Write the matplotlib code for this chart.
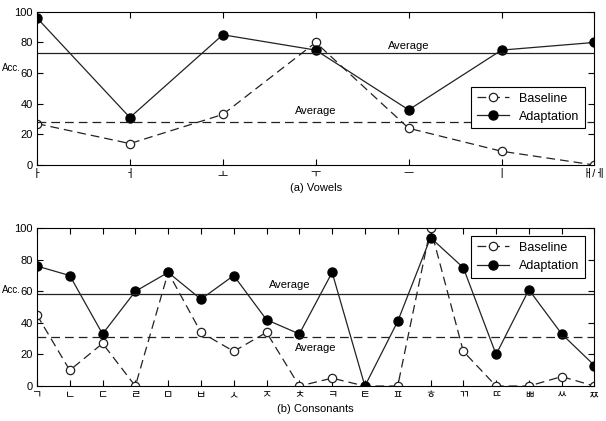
import matplotlib
matplotlib.use("Agg")
import matplotlib.pyplot as plt

plt.rcParams['font.family'] = ['Liberation Sans', 'Noto Sans CJK KR', 'DejaVu Sans']

# vowels
vowels = ['ㅏ', 'ㅓ', 'ㅗ', 'ㅜ', 'ㅡ', 'ㅣ', 'ㅐ/ㅔ']
vow_base = [27, 14, 33, 80, 24, 9, 0]
vow_adapt = [96, 31, 85, 75, 36, 75, 80]
vow_avg_base = 28
vow_avg_adapt = 73

# consonants
cons = ['ㄱ', 'ㄴ', 'ㄷ', 'ㄹ', 'ㅁ', 'ㅂ', 'ㅅ', 'ㅈ', 'ㅊ', 'ㅋ', 'ㅌ', 'ㅍ', 'ㅎ',
        'ㄲ', 'ㄸ', 'ㅃ', 'ㅆ', 'ㅉ']
con_base = [45, 10, 27, 0, 72, 34, 22, 34, 0, 5, 0, 0, 100, 22, 0, 0, 6, 0]
con_adapt = [76, 70, 33, 60, 72, 55, 70, 42, 33, 72, 0, 41, 94, 75, 20, 61, 33, 13]
con_avg_base = 31
con_avg_adapt = 58

lc = '#222222'
fig = plt.figure(figsize=(6.06, 4.21), dpi=100)
ax1 = fig.add_axes([0.061, 0.608, 0.92, 0.364])
ax2 = fig.add_axes([0.061, 0.083, 0.92, 0.375])


def draw(ax, labels, base, adapt, avg_b, avg_a, title, avg_pos_a, avg_pos_b, anchor, acc_y):
    x = list(range(1, len(labels) + 1))
    ax.plot(x, base, '--', color=lc, lw=0.9, dashes=(7, 4), marker='o', ms=6,
            mfc='white', mec=lc, mew=0.9, label='Baseline')
    ax.plot(x, adapt, '-', color=lc, lw=0.9, marker='o', ms=6.5,
            mfc='black', mec='black', label='Adaptation')
    ax.axhline(avg_a, color=lc, lw=0.9)
    ax.axhline(avg_b, color=lc, lw=0.9, ls='--', dashes=(7, 4))
    ax.text(avg_pos_a[0], avg_pos_a[1], 'Average', fontsize=8, ha='center', va='center')
    ax.text(avg_pos_b[0], avg_pos_b[1], 'Average', fontsize=8, ha='center', va='center')
    ax.set_xlim(1, len(labels))
    ax.set_ylim(0, 100)
    ax.set_xticks(x)
    ax.set_xticklabels(labels, fontsize=7)
    ax.set_yticks([0, 20, 40, 60, 80, 100])
    ax.tick_params(direction='in', top=True, right=True, labelsize=8, length=4, pad=3)
    ax.set_xlabel(title, fontsize=8, labelpad=3)
    fig.text(0.003, acc_y, 'Acc.', fontsize=7, ha='left', va='center')
    leg = ax.legend(loc='upper right', bbox_to_anchor=anchor, fontsize=9, fancybox=False,
                    framealpha=1, edgecolor='black', handlelength=2.6, borderpad=0.45,
                    labelspacing=0.5)
    leg.get_frame().set_linewidth(0.8)
    for s in ax.spines.values():
        s.set_linewidth(0.8)


draw(ax1, vowels, vow_base, vow_adapt, vow_avg_base, vow_avg_adapt, '(a) Vowels',
     (5.0, 78), (4.0, 35), (0.995, 0.55), 1 - 68 / 421)
draw(ax2, cons, con_base, con_adapt, con_avg_base, con_avg_adapt, '(b) Consonants',
     (8.7, 64), (9.5, 24), (0.995, 0.99), 1 - 290 / 421)

fig.savefig('out.png', dpi=100)
